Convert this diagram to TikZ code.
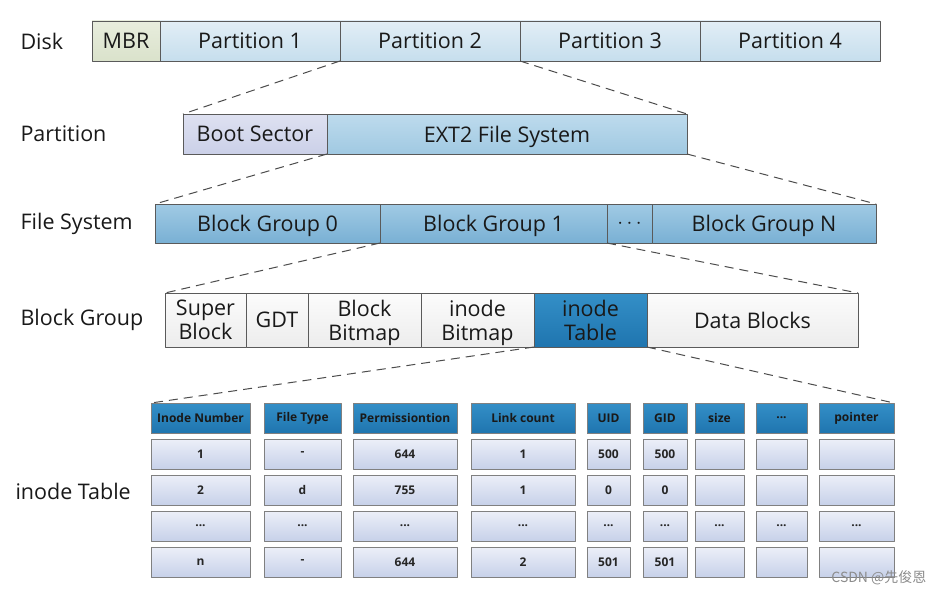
\documentclass[tikz,border=0pt]{standalone}
\usepackage{fontspec}
\setmainfont{Open Sans}
\newfontfamily\cjkfont{Noto Sans CJK SC}
\usetikzlibrary{shadows}
\definecolor{edgegray}{RGB}{90,90,90}
\definecolor{mbrtop}{RGB}{232,237,221}
\definecolor{mbrbot}{RGB}{218,226,203}
\definecolor{parttop}{RGB}{226,238,246}
\definecolor{partbot}{RGB}{198,222,237}
\definecolor{boottop}{RGB}{222,225,241}
\definecolor{bootbot}{RGB}{203,208,232}
\definecolor{exttop}{RGB}{190,219,237}
\definecolor{extbot}{RGB}{160,201,226}
\definecolor{bgtop}{RGB}{160,202,228}
\definecolor{bgbot}{RGB}{121,176,212}
\definecolor{whtop}{RGB}{252,252,252}
\definecolor{whbot}{RGB}{236,236,236}
\definecolor{ittop}{RGB}{52,143,199}
\definecolor{itbot}{RGB}{31,117,175}
\definecolor{celltop}{RGB}{236,239,248}
\definecolor{cellbot}{RGB}{199,209,233}
\begin{document}
\begin{tikzpicture}[x=1pt, y=-1pt, line join=round,
  font=\fontsize{21.5}{24}\selectfont,
  seg/.style={draw=edgegray, line width=0.8pt, anchor=north west, inner sep=0pt,
    outer sep=0pt, align=center, text=black!90, text depth=0pt},
  mbr/.style={seg, top color=mbrtop, bottom color=mbrbot},
  part/.style={seg, top color=parttop, bottom color=partbot},
  boot/.style={seg, top color=boottop, bottom color=bootbot},
  ext/.style={seg, top color=exttop, bottom color=extbot},
  bgrp/.style={seg, top color=bgtop, bottom color=bgbot},
  plain/.style={seg, top color=whtop, bottom color=whbot},
  itab/.style={seg, top color=ittop, bottom color=itbot},
  rowlbl/.style={anchor=west, text=black!90},
  zoomline/.style={draw=black!70, line width=1pt, dash pattern=on 9pt off 6pt},
  cell/.style={draw=black!50, line width=0.8pt, anchor=north west, inner sep=0pt,
    outer sep=0pt, minimum height=30, text=black!85,
    font=\bfseries\fontsize{12}{14}\selectfont,
    drop shadow={opacity=0.35, shadow xshift=1.2pt, shadow yshift=-1.2pt}},
  hcell/.style={cell, top color=ittop, bottom color=itbot, text=black!90},
  dcell/.style={cell, top color=celltop, bottom color=cellbot}]
\useasboundingbox (0,0) rectangle (944,594);
\def\etc{...}
% row labels
\node[rowlbl] (ldisk) at (17,41) {Disk};
\node[rowlbl] (lpart) at (17,134) {Partition};
\node[rowlbl] (lfs) at (17,224) {File System};
\node[rowlbl] (lbg) at (17,320) {Block Group};
\node[rowlbl] (lit) at (12,491) {inode Table};
% disk
\node[mbr, minimum width=68, minimum height=40] (mbr) at (92,21) {MBR};
\node[part, minimum width=180, minimum height=40] (p1) at (160,21) {Partition 1};
\node[part, minimum width=180, minimum height=40] (p2) at (340,21) {Partition 2};
\node[part, minimum width=180, minimum height=40] (p3) at (520,21) {Partition 3};
\node[part, minimum width=180, minimum height=40] (p4) at (700,21) {Partition 4};
% partition
\node[boot, minimum width=144, minimum height=40] (boot) at (183,114) {Boot Sector};
\node[ext, minimum width=360, minimum height=40] (ext2) at (327,114) {EXT2 File System};
% file system
\node[bgrp, minimum width=225, minimum height=39] (bg0) at (155,204) {Block Group 0};
\node[bgrp, minimum width=227, minimum height=39] (bg1) at (380,204) {Block Group 1};
\node[bgrp, minimum width=45, minimum height=39] (bgdots) at (607,204) {$\cdots$};
\node[bgrp, minimum width=224, minimum height=39] (bgn) at (652,204) {Block Group N};
% block group
\node[plain, minimum width=81, minimum height=54] (sb) at (165,293) {Super\\Block};
\node[plain, minimum width=62, minimum height=54] (gdt) at (246,293) {GDT};
\node[plain, minimum width=113, minimum height=54] (bbm) at (308,293) {Block\\Bitmap};
\node[plain, minimum width=113, minimum height=54] (ibm) at (421,293) {inode\\Bitmap};
\node[itab, minimum width=113, minimum height=54] (itab) at (534,293) {inode\\Table};
\node[plain, minimum width=211, minimum height=54] (data) at (647,293) {Data Blocks};
% inode table
\foreach \x/\w/\hd/\ra/\rb/\rc/\rd [count=\i] in {
    151/99/Inode Number/1/2/\etc/n,
    264/77/File Type/-/d/\etc/-,
    353/104/Permissiontion/644/755/\etc/644,
    471/104/Link count/1/1/\etc/2,
    587/43/UID/500/0/\etc/501,
    643/44/GID/500/0/\etc/501,
    695/49/size/{}/{}/\etc/{},
    756/51/\etc/{}/{}/\etc/{},
    819/75/pointer/{}/{}/\etc/{}} {
  \node[hcell, minimum width=\w] (h\i) at (\x,403) {\hd};
  \node[dcell, minimum width=\w] (c\i-1) at (\x,439) {\ra};
  \node[dcell, minimum width=\w] (c\i-2) at (\x,475) {\rb};
  \node[dcell, minimum width=\w] (c\i-3) at (\x,511) {\rc};
  \node[dcell, minimum width=\w] (c\i-4) at (\x,547) {\rd};
}
% zoom lines
\draw[zoomline] (p2.south west) -- (boot.north west) (p2.south east) -- (ext2.north east);
\draw[zoomline] (ext2.south west) -- (bg0.north west) (ext2.south east) -- (bgn.north east);
\draw[zoomline] (bg1.south west) -- (sb.north west) (bg1.south east) -- (data.north east);
\draw[zoomline] (itab.south west) -- (h1.north west) (itab.south east) -- (h9.north east);
\node[anchor=east, text=black!45, font=\cjkfont\fontsize{14}{16}\selectfont] (mark) at (930,578) {CSDN @先俊恩};
\end{tikzpicture}
\end{document}
